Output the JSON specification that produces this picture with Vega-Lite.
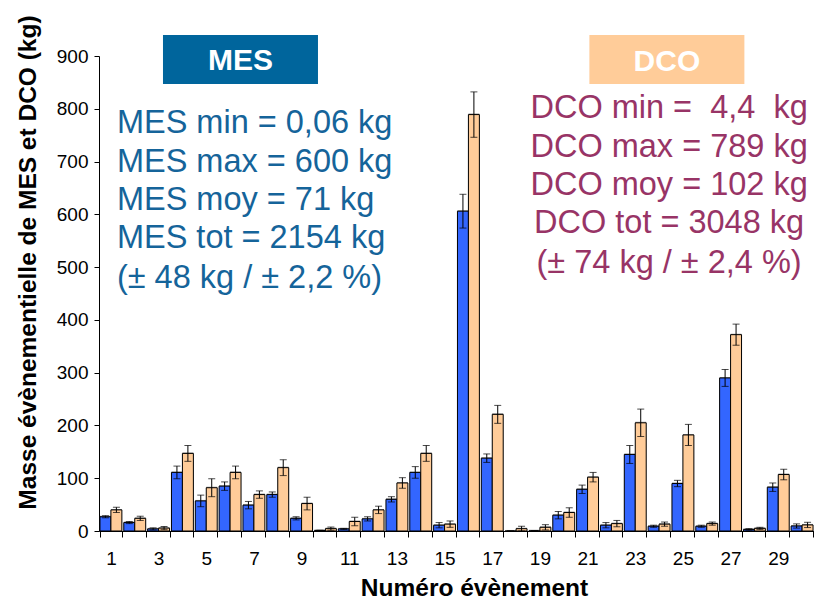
{
  "$schema": "https://vega.github.io/schema/vega-lite/v6.json",
  "width": 715,
  "height": 475,
  "autosize": {"type": "none"},
  "padding": {"left": 99, "top": 56, "right": 0, "bottom": 69},
  "background": "white",
  "config": {
    "view": {"stroke": null},
    "font": "Liberation Sans",
    "axis": {"domainColor": "black", "tickColor": "black", "labelColor": "black", "titleColor": "black", "grid": false, "labelFont": "Liberation Sans", "titleFont": "Liberation Sans"}
  },
  "data": {"values": [
    {"event": "1", "type": "MES", "value": 27, "lo": 25, "hi": 29},
    {"event": "1", "type": "DCO", "value": 40, "lo": 35, "hi": 45},
    {"event": "2", "type": "MES", "value": 16, "lo": 14, "hi": 18},
    {"event": "2", "type": "DCO", "value": 24, "lo": 20, "hi": 28},
    {"event": "3", "type": "MES", "value": 4, "lo": 2, "hi": 6},
    {"event": "3", "type": "DCO", "value": 5.5, "lo": 2.5, "hi": 8.5},
    {"event": "4", "type": "MES", "value": 111, "lo": 99, "hi": 123},
    {"event": "4", "type": "DCO", "value": 147, "lo": 132, "hi": 162},
    {"event": "5", "type": "MES", "value": 57, "lo": 46, "hi": 68},
    {"event": "5", "type": "DCO", "value": 82, "lo": 65, "hi": 99},
    {"event": "6", "type": "MES", "value": 85, "lo": 77, "hi": 93},
    {"event": "6", "type": "DCO", "value": 111, "lo": 99, "hi": 123},
    {"event": "7", "type": "MES", "value": 49, "lo": 42, "hi": 56},
    {"event": "7", "type": "DCO", "value": 69, "lo": 62, "hi": 76},
    {"event": "8", "type": "MES", "value": 69, "lo": 64, "hi": 74},
    {"event": "8", "type": "DCO", "value": 120, "lo": 105, "hi": 135},
    {"event": "9", "type": "MES", "value": 24, "lo": 21, "hi": 27},
    {"event": "9", "type": "DCO", "value": 52, "lo": 40, "hi": 64},
    {"event": "10", "type": "MES", "value": 1, "lo": 0.5, "hi": 1.5},
    {"event": "10", "type": "DCO", "value": 4.5, "lo": 1.5, "hi": 7.5},
    {"event": "11", "type": "MES", "value": 4, "lo": 3, "hi": 5},
    {"event": "11", "type": "DCO", "value": 18, "lo": 10, "hi": 26},
    {"event": "12", "type": "MES", "value": 23, "lo": 19, "hi": 27},
    {"event": "12", "type": "DCO", "value": 40, "lo": 33, "hi": 47},
    {"event": "13", "type": "MES", "value": 60, "lo": 55, "hi": 65},
    {"event": "13", "type": "DCO", "value": 91, "lo": 81, "hi": 101},
    {"event": "14", "type": "MES", "value": 111, "lo": 100, "hi": 122},
    {"event": "14", "type": "DCO", "value": 147, "lo": 132, "hi": 162},
    {"event": "15", "type": "MES", "value": 11, "lo": 6, "hi": 16},
    {"event": "15", "type": "DCO", "value": 13, "lo": 7, "hi": 19},
    {"event": "16", "type": "MES", "value": 606, "lo": 574, "hi": 638},
    {"event": "16", "type": "DCO", "value": 789, "lo": 746, "hi": 832},
    {"event": "17", "type": "MES", "value": 138, "lo": 130, "hi": 146},
    {"event": "17", "type": "DCO", "value": 221, "lo": 204, "hi": 238},
    {"event": "18", "type": "MES", "value": 0.06, "lo": 0.06, "hi": 0.06},
    {"event": "18", "type": "DCO", "value": 4.4, "lo": 0, "hi": 9},
    {"event": "19", "type": "MES", "value": 0.5, "lo": 0.5, "hi": 0.5},
    {"event": "19", "type": "DCO", "value": 7, "lo": 2, "hi": 12},
    {"event": "20", "type": "MES", "value": 30, "lo": 23, "hi": 37},
    {"event": "20", "type": "DCO", "value": 35, "lo": 26, "hi": 44},
    {"event": "21", "type": "MES", "value": 79, "lo": 71, "hi": 87},
    {"event": "21", "type": "DCO", "value": 102, "lo": 93, "hi": 111},
    {"event": "22", "type": "MES", "value": 11, "lo": 6, "hi": 16},
    {"event": "22", "type": "DCO", "value": 14, "lo": 8, "hi": 20},
    {"event": "23", "type": "MES", "value": 145, "lo": 128, "hi": 162},
    {"event": "23", "type": "DCO", "value": 205, "lo": 179, "hi": 231},
    {"event": "24", "type": "MES", "value": 9, "lo": 7, "hi": 11},
    {"event": "24", "type": "DCO", "value": 13, "lo": 9, "hi": 17},
    {"event": "25", "type": "MES", "value": 90, "lo": 84, "hi": 96},
    {"event": "25", "type": "DCO", "value": 182, "lo": 162, "hi": 202},
    {"event": "26", "type": "MES", "value": 9, "lo": 7, "hi": 11},
    {"event": "26", "type": "DCO", "value": 14, "lo": 11, "hi": 17},
    {"event": "27", "type": "MES", "value": 290, "lo": 274, "hi": 306},
    {"event": "27", "type": "DCO", "value": 372, "lo": 352, "hi": 392},
    {"event": "28", "type": "MES", "value": 3, "lo": 1.5, "hi": 4.5},
    {"event": "28", "type": "DCO", "value": 5, "lo": 3, "hi": 7},
    {"event": "29", "type": "MES", "value": 83, "lo": 75, "hi": 91},
    {"event": "29", "type": "DCO", "value": 107, "lo": 97, "hi": 117},
    {"event": "30", "type": "MES", "value": 9.5, "lo": 5.5, "hi": 13.5},
    {"event": "30", "type": "DCO", "value": 11.5, "lo": 6.5, "hi": 16.5}
  ]},
  "encoding": {
    "x": {
      "field": "event", "type": "nominal", "sort": null,
      "scale": {"domain": ["1","2","3","4","5","6","7","8","9","10","11","12","13","14","15","16","17","18","19","20","21","22","23","24","25","26","27","28","29","30"], "paddingInner": 0.08, "paddingOuter": 0.04},
      "axis": {
        "title": "Numéro évènement", "titleFontSize": 24.5, "titleFontWeight": "bold",
        "titleX": 375, "titleY": 57, "titleBaseline": "middle", "titleAlign": "center",
        "labelAngle": 0, "labelFontSize": 19, "labelPadding": 12, "tickSize": 6,
        "tickBand": "extent",
        "labelExpr": "parseInt(datum.value) % 2 === 1 ? datum.label : ''"
      }
    }
  },
  "layer": [
    {
      "mark": {"type": "bar", "color": "#9a9a9a", "xOffset": 2, "yOffset": -1},
      "encoding": {
        "xOffset": {"field": "type", "type": "nominal", "scale": {"domain": ["MES", "DCO"]}},
        "y": {"field": "value", "type": "quantitative"}
      }
    },
    {
      "mark": {"type": "bar", "stroke": "black", "strokeWidth": 1},
      "encoding": {
        "xOffset": {"field": "type", "type": "nominal", "scale": {"domain": ["MES", "DCO"]}},
        "y": {
          "field": "value", "type": "quantitative",
          "scale": {"domain": [0, 900], "nice": false},
          "axis": {
            "title": "Masse évènementielle de MES et DCO (kg)", "titleFontSize": 24.5, "titleFontWeight": "bold",
            "titleX": -71, "titleY": 206, "titleAngle": -90, "titleBaseline": "middle", "titleAlign": "center",
            "values": [0,50,100,150,200,250,300,350,400,450,500,550,600,650,700,750,800,850,900],
            "labelExpr": "datum.value % 100 === 0 ? datum.label : ''",
            "labelFontSize": 19, "tickSize": 5, "labelPadding": 6
          }
        },
        "color": {"field": "type", "type": "nominal", "scale": {"domain": ["MES", "DCO"], "range": ["#3366FF", "#FFCC99"]}, "legend": null}
      }
    },
    {
      "mark": {"type": "rule", "color": "black", "strokeWidth": 1},
      "encoding": {
        "xOffset": {"field": "type", "type": "nominal", "scale": {"domain": ["MES", "DCO"]}},
        "y": {"field": "lo", "type": "quantitative"},
        "y2": {"field": "hi"}
      }
    },
    {
      "mark": {"type": "tick", "orient": "horizontal", "color": "black", "size": 7, "thickness": 1},
      "encoding": {
        "xOffset": {"field": "type", "type": "nominal", "scale": {"domain": ["MES", "DCO"]}},
        "y": {"field": "lo", "type": "quantitative"}
      }
    },
    {
      "mark": {"type": "tick", "orient": "horizontal", "color": "black", "size": 7, "thickness": 1},
      "encoding": {
        "xOffset": {"field": "type", "type": "nominal", "scale": {"domain": ["MES", "DCO"]}},
        "y": {"field": "hi", "type": "quantitative"}
      }
    },
    {
      "data": {"values": [{"event": "6", "top": 940, "bottom": 847}]},
      "mark": {"type": "bar", "color": "#00659C", "width": 155, "xOffset": 10.4},
      "encoding": {
        "y": {"field": "bottom", "type": "quantitative"},
        "y2": {"field": "top"}
      }
    },
    {
      "data": {"values": [{"event": "24", "top": 940, "bottom": 847}]},
      "mark": {"type": "bar", "color": "#FFCC99", "width": 155, "xOffset": 7.8},
      "encoding": {
        "y": {"field": "bottom", "type": "quantitative"},
        "y2": {"field": "top"}
      }
    },
    {
      "data": {"values": [{"event": "6", "v": 890.7, "label": "MES"}]},
      "mark": {"type": "text", "color": "white", "fontSize": 30, "fontWeight": "bold", "font": "Liberation Sans", "baseline": "middle", "align": "center", "dx": 10.4},
      "encoding": {
        "y": {"field": "v", "type": "quantitative"},
        "text": {"field": "label"}
      }
    },
    {
      "data": {"values": [{"event": "24", "v": 888, "label": "DCO"}]},
      "mark": {"type": "text", "color": "white", "fontSize": 30, "fontWeight": "bold", "font": "Liberation Sans", "baseline": "middle", "align": "center", "dx": 7.8},
      "encoding": {
        "y": {"field": "v", "type": "quantitative"},
        "text": {"field": "label"}
      }
    },
    {
      "data": {"values": [
        {"event": "1", "v": 773, "label": "MES min = 0,06 kg"},
        {"event": "1", "v": 699, "label": "MES max = 600 kg"},
        {"event": "1", "v": 627, "label": "MES moy = 71 kg"},
        {"event": "1", "v": 555, "label": "MES tot = 2154 kg"},
        {"event": "1", "v": 479, "label": "(± 48 kg / ± 2,2 %)"}
      ]},
      "mark": {"type": "text", "color": "#15649A", "fontSize": 32.5, "font": "Liberation Sans", "baseline": "middle", "align": "left", "dx": 6},
      "encoding": {
        "y": {"field": "v", "type": "quantitative"},
        "text": {"field": "label"}
      }
    },
    {
      "data": {"values": [
        {"event": "24", "v": 801, "label": "DCO min = \u00a04,4 \u00a0kg"},
        {"event": "24", "v": 727.6, "label": "DCO max = 789 kg"},
        {"event": "24", "v": 655.6, "label": "DCO moy = 102 kg"},
        {"event": "24", "v": 583.6, "label": "DCO tot = 3048 kg"},
        {"event": "24", "v": 507.8, "label": "(± 74 kg / ± 2,4 %)"}
      ]},
      "mark": {"type": "text", "color": "#983466", "fontSize": 32.5, "font": "Liberation Sans", "baseline": "middle", "align": "center", "dx": 10},
      "encoding": {
        "y": {"field": "v", "type": "quantitative"},
        "text": {"field": "label"}
      }
    }
  ]
}
